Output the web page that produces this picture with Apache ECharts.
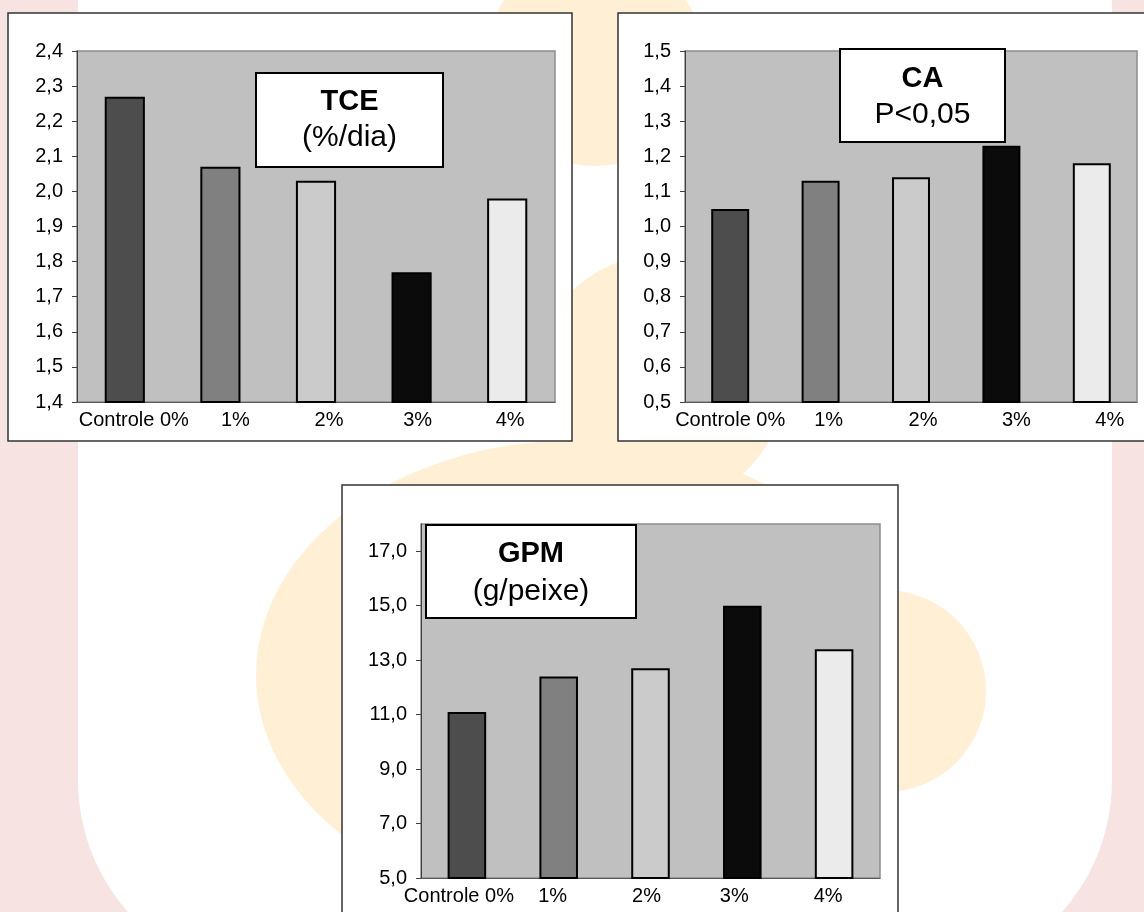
<!DOCTYPE html>
<html>
<head>
<meta charset="utf-8">
<script src="https://cdn.jsdelivr.net/npm/echarts@6/dist/echarts.min.js"></script>
<style>
html,body{margin:0;padding:0;background:#f7e4e2;}
#chart{width:1144px;height:912px;}
</style>
</head>
<body>
<div id="chart"></div>
<script>
// ---- data ----
const categories = ['Controle 0%', '1%', '2%', '3%', '4%'];
const tceValues = [2.27, 2.07, 2.03, 1.77, 1.98];
const caValues = [1.05, 1.13, 1.14, 1.23, 1.18];
const gpmValues = [11.1, 12.4, 12.7, 15.0, 13.4];
const gpmTickValues = [5, 7, 9, 11, 13, 15, 17];
const tceTitle = ['TCE', '(%/dia)'];
const caTitle = ['CA', 'P<0,05'];
const gpmTitle = ['GPM', '(g/peixe)'];

// ---- styles ----
const barColors = ['#4d4d4d', '#808080', '#cbcbcb', '#0b0b0b', '#ebebeb'];
const FONT = 'Liberation Sans, Arial, sans-serif';
const labelShift = [
  [9, 15, 13, 6, 3],
  [0, 8, 12, 15, 18],
  [-8, -6, -4, -8, -6]
];

function fmt(v) { return Number(v).toFixed(1).replace('.', ','); }

function catAxis(gi) {
  const rich = {};
  labelShift[gi].forEach((s, i) => {
    rich['s' + i] = {
      fontSize: 20, fontFamily: FONT, color: '#000',
      padding: s >= 0 ? [0, 0, 0, 2 * s] : [0, -2 * s, 0, 0]
    };
  });
  return {
    type: 'category', gridIndex: gi, data: categories,
    axisTick: { show: false },
    axisLine: { lineStyle: { color: '#5a5a5a', width: 1 } },
    axisLabel: {
      interval: 0, margin: 8,
      formatter: (v, i) => '{s' + i + '|' + v + '}',
      rich: rich
    },
    splitLine: { show: false }
  };
}

function valAxis(gi, min, max, interval, custom) {
  const ax = {
    type: 'value', gridIndex: gi, min: min, max: max,
    axisLine: { show: true, lineStyle: { color: '#404040', width: 1 } },
    axisTick: { show: true, length: 5, inside: false, lineStyle: { color: '#404040' } },
    axisLabel: { fontSize: 20, fontFamily: FONT, color: '#000', margin: 14, formatter: fmt },
    splitLine: { show: false }
  };
  if (interval) ax.interval = interval;
  if (custom) {
    ax.axisLabel.customValues = custom;
    ax.axisTick.customValues = custom;
  }
  return ax;
}

function barSeries(gi, values) {
  return {
    type: 'bar', xAxisIndex: gi, yAxisIndex: gi,
    barWidth: '42%',
    data: values.map((v, i) => ({
      value: v,
      itemStyle: { color: barColors[i], borderColor: '#000', borderWidth: 2 }
    })),
    silent: true
  };
}

function titleBox(x, y, w, h, lines, y1, y2) {
  return {
    type: 'group', z: 100,
    children: [
      { type: 'rect', z: 100, shape: { x: x, y: y, width: w, height: h },
        style: { fill: '#fff', stroke: '#000', lineWidth: 2 } },
      { type: 'text', z: 101, style: { text: lines[0], x: x + w / 2, y: y1,
        textAlign: 'center', textVerticalAlign: 'middle',
        font: 'bold 29px ' + FONT, fill: '#000' } },
      { type: 'text', z: 101, style: { text: lines[1], x: x + w / 2, y: y2,
        textAlign: 'center', textVerticalAlign: 'middle',
        font: '30px ' + FONT, fill: '#000' } }
    ]
  };
}

const YEL = '#fff0d5';
const bgGraphics = [
  { type: 'rect', z: -100, shape: { x: 78, y: -20, width: 1034, height: 1000, r: [0, 0, 200, 200] },
    style: { fill: '#ffffff' } },
  { type: 'circle', z: -90, shape: { cx: 595, cy: 58, r: 108 }, style: { fill: YEL } },
  { type: 'circle', z: -90, shape: { cx: 660, cy: 380, r: 125 }, style: { fill: YEL } },
  { type: 'circle', z: -90, shape: { cx: 885, cy: 691, r: 101 }, style: { fill: YEL } },
  { type: 'circle', z: -90, x: 577, y: 675, scaleX: 321 / 235, scaleY: 1,
    shape: { cx: 0, cy: 0, r: 235 }, style: { fill: YEL } },
  // panels
  { type: 'rect', z: -50, shape: { x: 8, y: 13, width: 564, height: 428 },
    style: { fill: '#fff', stroke: '#333', lineWidth: 1.5 } },
  { type: 'rect', z: -50, shape: { x: 618, y: 13, width: 560, height: 428 },
    style: { fill: '#fff', stroke: '#333', lineWidth: 1.5 } },
  { type: 'rect', z: -50, shape: { x: 342, y: 485, width: 556, height: 460 },
    style: { fill: '#fff', stroke: '#333', lineWidth: 1.5 } },
  titleBox(256, 73, 187, 94, tceTitle, 102, 138),
  titleBox(840, 49, 165, 93, caTitle, 79, 115),
  titleBox(426, 525, 210, 93, gpmTitle, 554, 592)
];

const gridStyle = { show: true, backgroundColor: '#c0c0c0', borderColor: '#8c8c8c', borderWidth: 1.5, containLabel: false };

const option = {
  animation: false,
  backgroundColor: '#f7e4e2',
  grid: [
    Object.assign({ left: 77, top: 51, width: 478, height: 351 }, gridStyle),
    Object.assign({ left: 685, top: 51, width: 452, height: 351 }, gridStyle),
    Object.assign({ left: 421, top: 524, width: 459, height: 354 }, gridStyle)
  ],
  xAxis: [catAxis(0), catAxis(1), catAxis(2)],
  yAxis: [
    valAxis(0, 1.4, 2.4, 0.1),
    valAxis(1, 0.5, 1.5, 0.1),
    valAxis(2, 5, 18, null, gpmTickValues)
  ],
  series: [barSeries(0, tceValues), barSeries(1, caValues), barSeries(2, gpmValues)],
  graphic: { elements: bgGraphics }
};

const chart = echarts.init(document.getElementById('chart'), null, { renderer: 'canvas' });
chart.setOption(option);
</script>
</body>
</html>
